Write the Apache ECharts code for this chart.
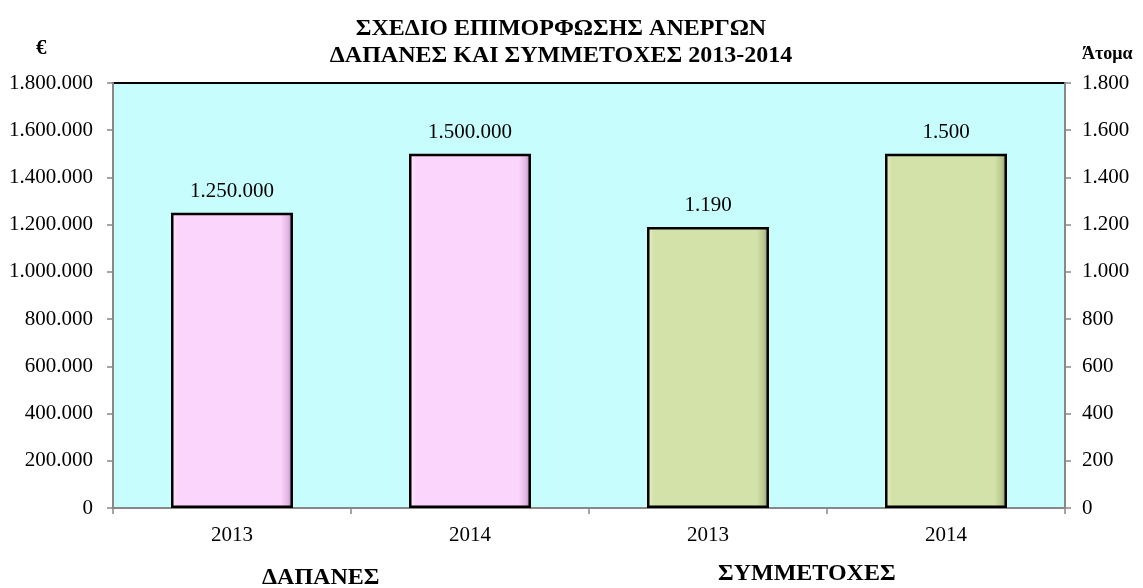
<!DOCTYPE html>
<html><head><meta charset="utf-8">
<script src="https://cdn.jsdelivr.net/npm/echarts@6/dist/echarts.min.js"></script>
<style>html,body{margin:0;padding:0;background:#fff}#c{width:1143px;height:588px}</style>
</head><body><div id="c"></div>
<script>
const categories = ['2013', '2014', '2013', '2014'];
const spending = [1250000, 1500000, null, null];       // € (left axis)
const participants = [null, null, 1190, 1500];         // Άτομα (right axis)
const titleLines = ['ΣΧΕΔΙΟ ΕΠΙΜΟΡΦΩΣΗΣ ΑΝΕΡΓΩΝ', 'ΔΑΠΑΝΕΣ ΚΑΙ ΣΥΜΜΕΤΟΧΕΣ 2013-2014'];
const groupLabels = ['ΔΑΠΑΝΕΣ', 'ΣΥΜΜΕΤΟΧΕΣ'];
const leftUnit = '€';
const rightUnit = 'Άτομα';

const FONT = '"Liberation Serif", "Times New Roman", serif';
function dots(v) {
  return String(Math.round(v)).replace(/\B(?=(\d{3})+(?!\d))/g, '.');
}
function grad(c0, c1, c2, c3) {
  return new echarts.graphic.LinearGradient(0, 0, 1, 0, [
    {offset: 0, color: c0}, {offset: 0.06, color: c1},
    {offset: 0.9, color: c1}, {offset: 0.96, color: c2}, {offset: 1, color: c3}
  ]);
}
const chart = echarts.init(document.getElementById('c'));
chart.setOption({
  animation: false,
  textStyle: {fontFamily: FONT},
  title: {
    text: titleLines.join('\n'),
    left: 556, top: 10, textAlign: 'center',
    textStyle: {fontFamily: FONT, fontSize: 24, fontWeight: 'bold', color: '#000', lineHeight: 27}
  },
  grid: {
    left: 113, right: 78, top: 83, bottom: 80,
    show: true, backgroundColor: '#c8fdfd', borderColor: '#000', borderWidth: 2
  },
  xAxis: {
    type: 'category', data: categories,
    axisLine: {lineStyle: {color: '#888', width: 2}},
    axisTick: {show: true, length: 6, lineStyle: {color: '#888', width: 1.5}},
    axisLabel: {color: '#000', fontSize: 21, fontFamily: FONT, margin: 17}
  },
  yAxis: [{
    type: 'value', min: 0, max: 1800000, interval: 200000,
    splitLine: {show: false},
    axisLine: {show: true, lineStyle: {color: '#888', width: 2}},
    axisTick: {show: true, length: 6, lineStyle: {color: '#888', width: 1.5}},
    axisLabel: {color: '#000', fontSize: 21, fontFamily: FONT, margin: 20, formatter: dots}
  }, {
    type: 'value', min: 0, max: 1800, interval: 200, position: 'right',
    splitLine: {show: false},
    axisLine: {show: true, lineStyle: {color: '#888', width: 2}},
    axisTick: {show: true, length: 6, lineStyle: {color: '#888', width: 1.5}},
    axisLabel: {color: '#000', fontSize: 21, fontFamily: FONT, margin: 17, formatter: dots}
  }],
  series: [{
    type: 'bar', yAxisIndex: 0, data: spending, barWidth: 122, barGap: '-100%',
    itemStyle: {color: grad('#fdeafd', '#fbd5fb', '#e2b5e2', '#9a6e9a'), borderColor: '#000', borderWidth: 2.5},
    label: {show: true, position: 'top', distance: 11, color: '#000', fontSize: 21, fontFamily: FONT,
      formatter: p => dots(p.value)}
  }, {
    type: 'bar', yAxisIndex: 1, data: participants, barWidth: 122, barGap: '-100%',
    itemStyle: {color: grad('#e6efc8', '#d3e2a8', '#b9c68f', '#7d8660'), borderColor: '#000', borderWidth: 2.5},
    label: {show: true, position: 'top', distance: 11, color: '#000', fontSize: 21, fontFamily: FONT,
      formatter: p => dots(p.value)}
  }],
  graphic: [
    {type: 'text', left: 36, top: 38, style: {text: leftUnit, font: 'bold 21px ' + FONT, fill: '#000'}},
    {type: 'text', left: 1082, top: 45, style: {text: rightUnit, font: 'bold 18px ' + FONT, fill: '#000'}},
    {type: 'text', left: 262, top: 566, style: {text: groupLabels[0], font: 'bold 24px ' + FONT, fill: '#000'}},
    {type: 'text', left: 718, top: 562, style: {text: groupLabels[1], font: 'bold 24px ' + FONT, fill: '#000'}}
  ]
});
</script></body></html>
